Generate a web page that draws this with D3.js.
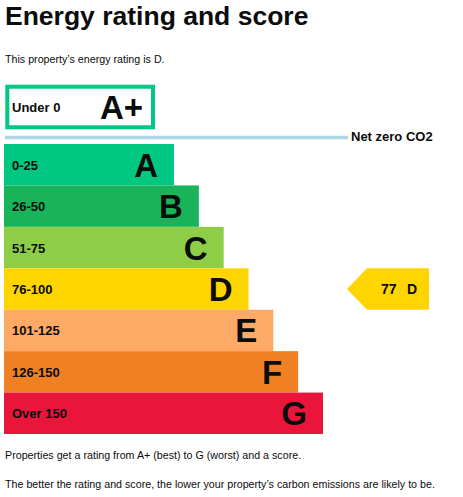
<!DOCTYPE html>
<html lang="en">
<head>
<meta charset="utf-8">
<title>Energy rating and score</title>
<style>
  body { margin: 0; background: #fff; }
  svg text { font-family: "Liberation Sans", Arial, sans-serif; fill: #0b0c0c; }
  .title { font-size: 26.5px; font-weight: bold; }
  .note { font-size: 10.7px; }
  .range { font-size: 13px; font-weight: bold; }
  .letter { font-size: 33px; font-weight: bold; text-anchor: end; }
</style>
</head>
<body>
<script src="https://cdn.jsdelivr.net/npm/d3@7"></script>
<script>
// bands, best to worst
var letters = ["A", "B", "C", "D", "E", "F", "G"];
var ranges = ["0-25", "26-50", "51-75", "76-100", "101-125", "126-150", "Over 150"];
var topBand = { letter: "A+", range: "Under 0" };
var currentScore = 77;
var currentRating = "D";

var W = 463, H = 497;

var svg = d3.select("body").append("svg")
    .attr("width", W)
    .attr("height", H);

var color = d3.scaleOrdinal()
    .domain(["A+"].concat(letters))
    .range(["#00c781", "#00c781", "#19b459", "#8dce46", "#ffd500", "#fcaa65", "#ef8023", "#e9153b"]);

var y = d3.scaleBand()
    .domain(letters)
    .range([144, 434])
    .padding(0);

// bar length grows by one step per band
var len = d3.scaleLinear()
    .domain([0, letters.length - 1])
    .range([170, 319]);

var x0 = 4;

svg.append("text")
    .attr("class", "title")
    .attr("x", 5)
    .attr("y", 25)
    .text("Energy rating and score");

svg.append("text")
    .attr("class", "note")
    .attr("x", 5)
    .attr("y", 63)
    .text("This property\u2019s energy rating is " + currentRating + ".");

// A+ box
svg.append("rect")
    .attr("x", 7.3)
    .attr("y", 86.7)
    .attr("width", 145.7)
    .attr("height", 40.6)
    .attr("fill", "#fff")
    .attr("stroke", color("A+"))
    .attr("stroke-width", 4);

svg.append("text")
    .attr("class", "range")
    .attr("x", 12)
    .attr("y", 112)
    .text(topBand.range);

svg.append("text")
    .attr("class", "letter")
    .attr("x", 143)
    .attr("y", 119)
    .text(topBand.letter);

// net zero line
svg.append("line")
    .attr("x1", 5)
    .attr("x2", 348)
    .attr("y1", 137.5)
    .attr("y2", 137.5)
    .attr("stroke", "#add8e3")
    .attr("stroke-width", 3.5);

svg.append("text")
    .attr("x", 351)
    .attr("y", 141)
    .style("font-size", "13px")
    .style("font-weight", "bold")
    .text("Net zero CO2");

var band = svg.selectAll("g.band")
    .data(letters)
    .enter().append("g")
    .attr("class", "band");

band.append("rect")
    .attr("x", x0)
    .attr("y", function(d) { return y(d); })
    .attr("width", function(d, i) { return len(i); })
    .attr("height", y.bandwidth())
    .attr("fill", function(d) { return color(d); });

band.append("text")
    .attr("class", "range")
    .attr("x", 12)
    .attr("y", function(d) { return y(d) + y.bandwidth() / 2 + 5; })
    .text(function(d, i) { return ranges[i]; });

band.append("text")
    .attr("class", "letter")
    .attr("x", function(d, i) { return x0 + len(i) - 16; })
    .attr("y", function(d) { return y(d) + y.bandwidth() / 2 + 12; })
    .text(function(d) { return d; });

// current rating pointer
var py = y(currentRating), ph = y.bandwidth();
var pLeft = 347, pRight = 429, pNeck = 367;
svg.append("polygon")
    .attr("points", [
        [pLeft, py + ph / 2],
        [pNeck, py],
        [pRight, py],
        [pRight, py + ph],
        [pNeck, py + ph]
    ].join(" "))
    .attr("fill", color(currentRating));

svg.append("text")
    .attr("x", 381)
    .attr("y", py + ph / 2 + 5)
    .style("font-size", "14px")
    .style("font-weight", "bold")
    .text(currentScore);

svg.append("text")
    .attr("x", 407)
    .attr("y", py + ph / 2 + 5)
    .style("font-size", "14px")
    .style("font-weight", "bold")
    .text(currentRating);

svg.append("text")
    .attr("class", "note")
    .attr("x", 5)
    .attr("y", 459)
    .text("Properties get a rating from A+ (best) to G (worst) and a score.");

svg.append("text")
    .attr("class", "note")
    .attr("x", 5)
    .attr("y", 488)
    .text("The better the rating and score, the lower your property\u2019s carbon emissions are likely to be.");
</script>
</body>
</html>
